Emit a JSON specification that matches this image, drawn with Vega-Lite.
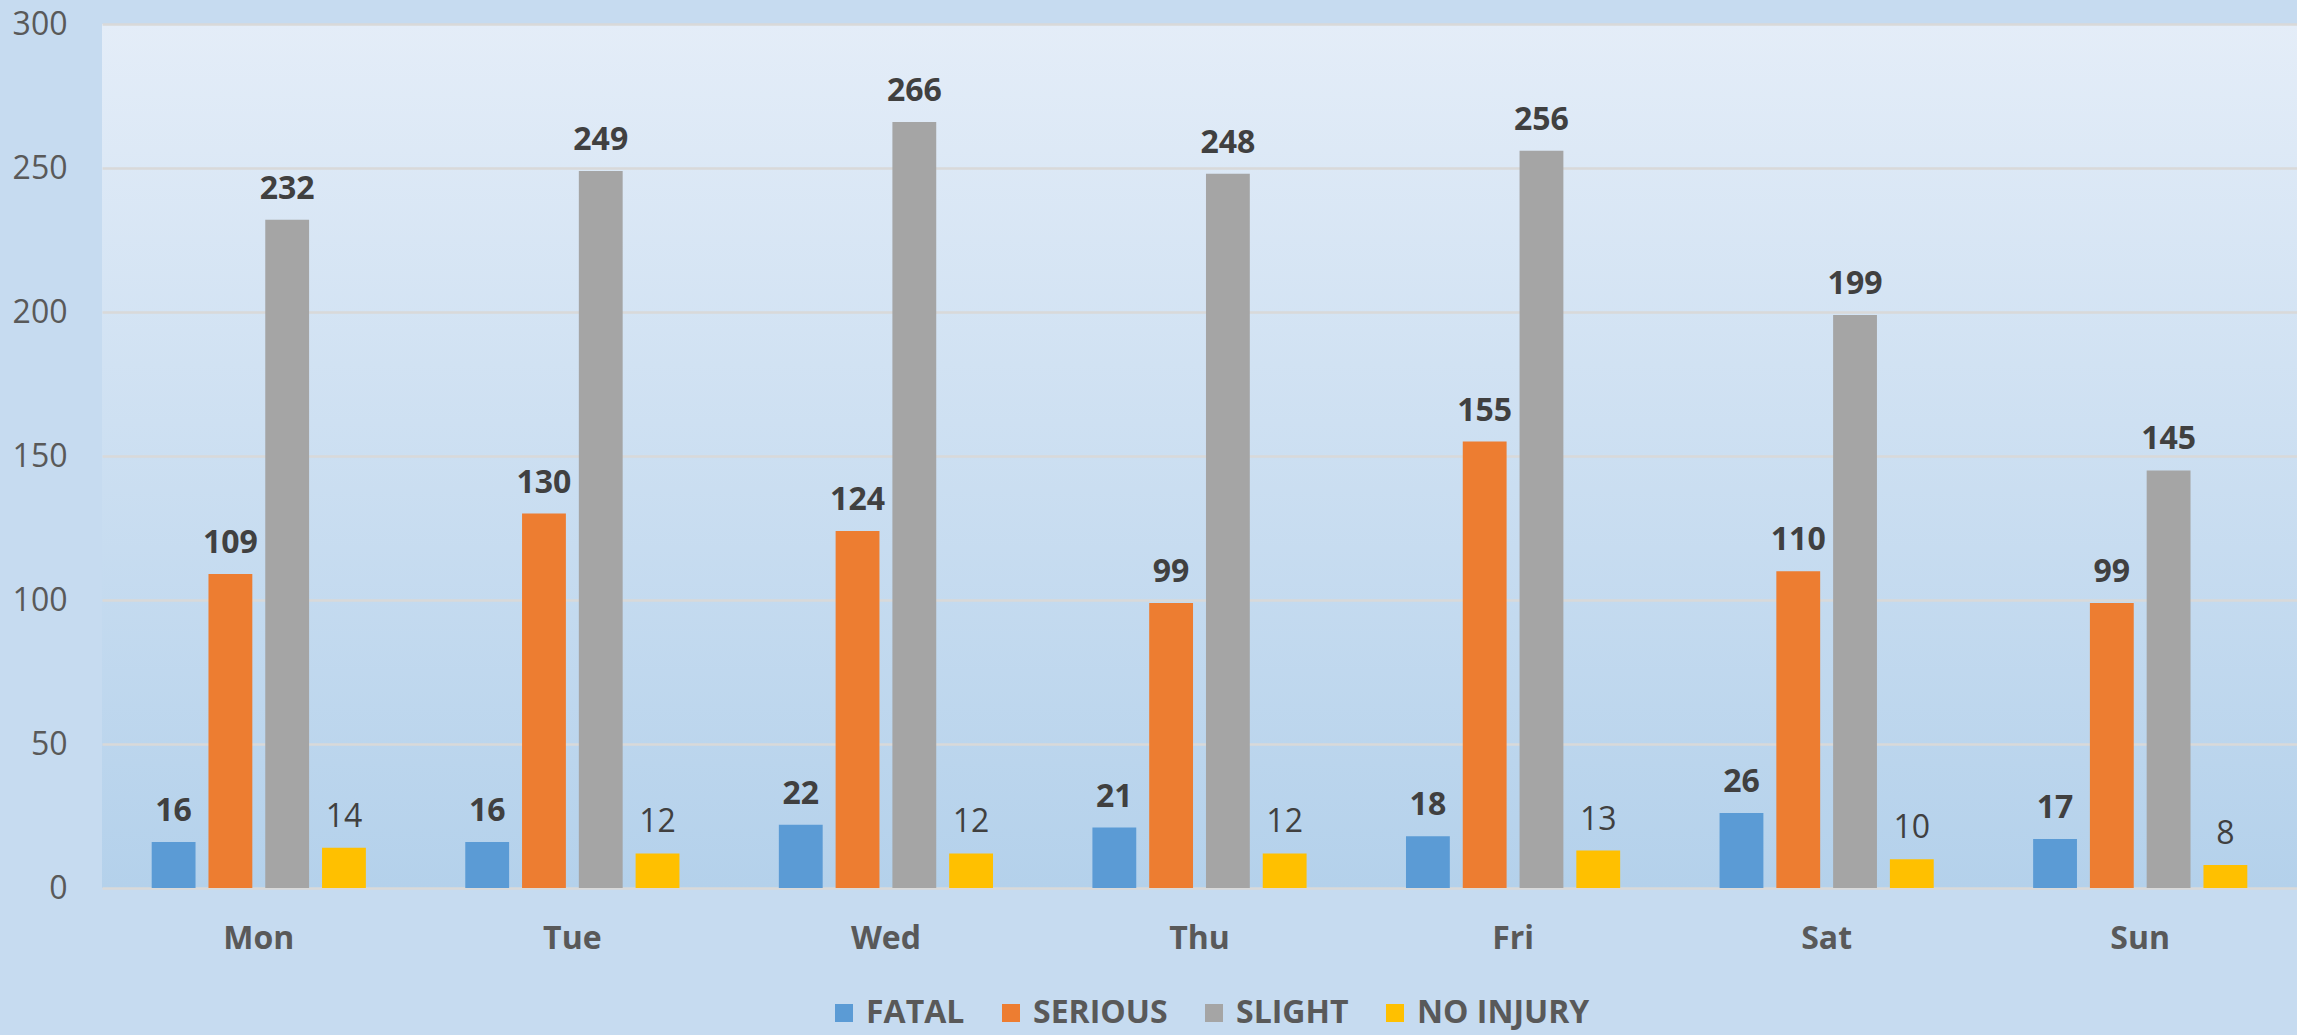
{
  "$schema": "https://vega.github.io/schema/vega-lite/v6.json",
  "autosize": {"type": "none"},
  "width": 2195,
  "height": 864,
  "padding": {"left": 102, "top": 24, "right": 0, "bottom": 147},
  "background": "#c6dbf0",
  "config": {
    "view": {"stroke": null, "fill": {"gradient": "linear", "x1": 0, "y1": 0, "x2": 0, "y2": 1, "stops": [{"offset": 0, "color": "#e4edf8"}, {"offset": 1, "color": "#b4d1eb"}]}},
    "font": "Open Sans"
  },
  "data": {
    "values": [
      {"Day": "Mon", "Series": "FATAL", "Value": 16},
      {"Day": "Mon", "Series": "SERIOUS", "Value": 109},
      {"Day": "Mon", "Series": "SLIGHT", "Value": 232},
      {"Day": "Mon", "Series": "NO INJURY", "Value": 14},
      {"Day": "Tue", "Series": "FATAL", "Value": 16},
      {"Day": "Tue", "Series": "SERIOUS", "Value": 130},
      {"Day": "Tue", "Series": "SLIGHT", "Value": 249},
      {"Day": "Tue", "Series": "NO INJURY", "Value": 12},
      {"Day": "Wed", "Series": "FATAL", "Value": 22},
      {"Day": "Wed", "Series": "SERIOUS", "Value": 124},
      {"Day": "Wed", "Series": "SLIGHT", "Value": 266},
      {"Day": "Wed", "Series": "NO INJURY", "Value": 12},
      {"Day": "Thu", "Series": "FATAL", "Value": 21},
      {"Day": "Thu", "Series": "SERIOUS", "Value": 99},
      {"Day": "Thu", "Series": "SLIGHT", "Value": 248},
      {"Day": "Thu", "Series": "NO INJURY", "Value": 12},
      {"Day": "Fri", "Series": "FATAL", "Value": 18},
      {"Day": "Fri", "Series": "SERIOUS", "Value": 155},
      {"Day": "Fri", "Series": "SLIGHT", "Value": 256},
      {"Day": "Fri", "Series": "NO INJURY", "Value": 13},
      {"Day": "Sat", "Series": "FATAL", "Value": 26},
      {"Day": "Sat", "Series": "SERIOUS", "Value": 110},
      {"Day": "Sat", "Series": "SLIGHT", "Value": 199},
      {"Day": "Sat", "Series": "NO INJURY", "Value": 10},
      {"Day": "Sun", "Series": "FATAL", "Value": 17},
      {"Day": "Sun", "Series": "SERIOUS", "Value": 99},
      {"Day": "Sun", "Series": "SLIGHT", "Value": 145},
      {"Day": "Sun", "Series": "NO INJURY", "Value": 8}
    ]
  },
  "encoding": {
    "x": {
      "field": "Day", "type": "nominal", "sort": null,
      "scale": {"paddingInner": 0.317, "paddingOuter": 0.1585},
      "axis": {"title": null, "domain": false, "ticks": false, "labelAngle": 0, "labelFont": "Open Sans", "labelFontSize": 32, "labelFontWeight": "bold", "labelColor": "#595959", "labelBaseline": "alphabetic", "labelPadding": 60}
    },
    "xOffset": {
      "field": "Series", "type": "nominal", "sort": ["FATAL", "SERIOUS", "SLIGHT", "NO INJURY"],
      "scale": {"paddingInner": 0.228, "paddingOuter": 0}
    },
    "y": {
      "field": "Value", "type": "quantitative",
      "scale": {"domain": [0, 300], "nice": false},
      "axis": {"title": null, "domain": false, "ticks": false, "values": [0, 50, 100, 150, 200, 250, 300], "labelFont": "Open Sans", "labelFontSize": 32, "labelColor": "#595959", "labelPadding": 35, "gridColor": "#d9d9d9", "gridWidth": 2.5}
    }
  },
  "layer": [
    {
      "mark": {"type": "bar", "stroke": null},
      "encoding": {
        "color": {
          "field": "Series", "type": "nominal",
          "sort": ["FATAL", "SERIOUS", "SLIGHT", "NO INJURY"],
          "scale": {"domain": ["FATAL", "SERIOUS", "SLIGHT", "NO INJURY"], "range": ["#5b9bd5", "#ed7d31", "#a5a5a5", "#ffc000"]},
          "legend": {
            "title": null, "orient": "none", "direction": "horizontal",
            "legendX": 726, "legendY": 973,
            "symbolType": "square", "symbolSize": 324, "symbolStrokeWidth": 0, "symbolOpacity": 1,
            "labelFont": "Open Sans", "labelFontSize": 32, "labelFontWeight": "bold", "labelColor": "#595959",
            "labelLimit": 0, "columnPadding": 30, "labelOffset": 6
          }
        }
      }
    },
    {
      "transform": [{"filter": "datum.Series !== 'NO INJURY'"}],
      "mark": {"type": "text", "baseline": "alphabetic", "dy": -21, "font": "Open Sans", "fontSize": 32, "fontWeight": "bold", "color": "#404040"},
      "encoding": {"text": {"field": "Value", "type": "quantitative"}}
    },
    {
      "transform": [{"filter": "datum.Series === 'NO INJURY'"}],
      "mark": {"type": "text", "baseline": "alphabetic", "dy": -21, "font": "Open Sans", "fontSize": 32, "fontWeight": "normal", "color": "#404040"},
      "encoding": {"text": {"field": "Value", "type": "quantitative"}}
    }
  ]
}
